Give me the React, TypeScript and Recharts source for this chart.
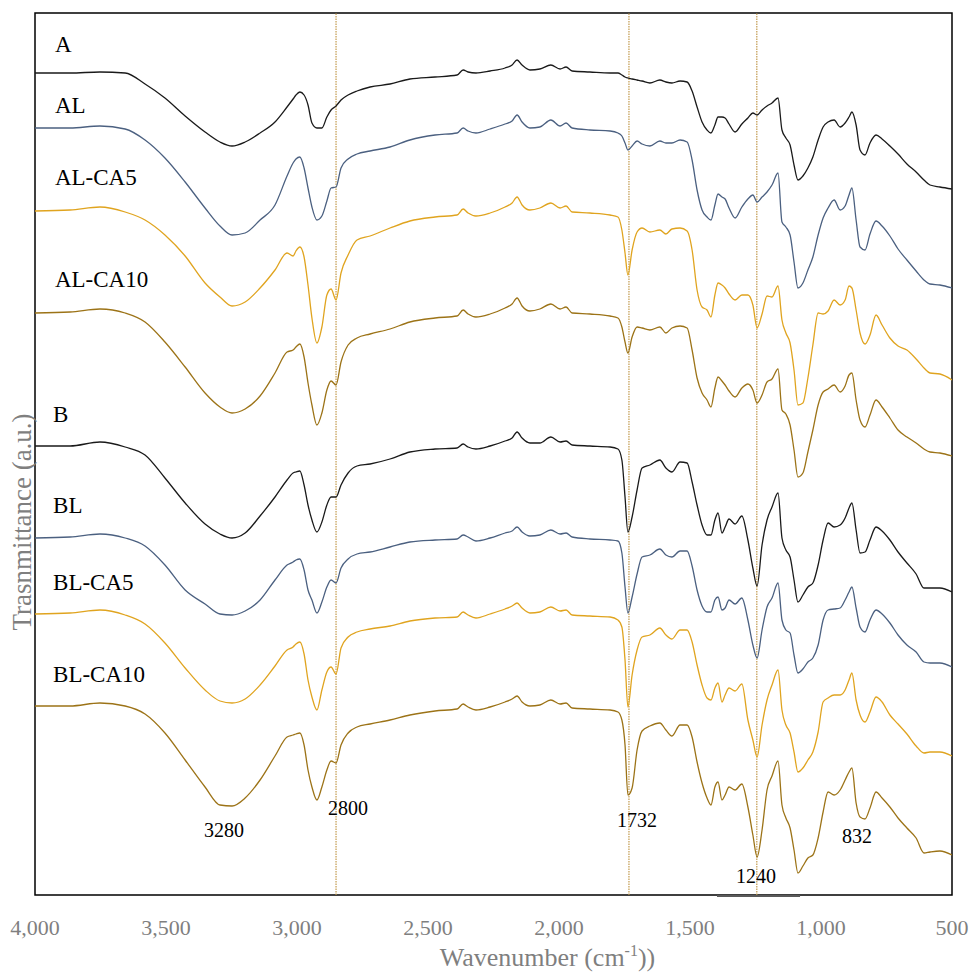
import React from 'react';
import {
  LineChart,
  Line,
  XAxis,
  YAxis,
  ReferenceLine,
  ReferenceArea,
  ReferenceDot,
} from 'recharts';

// Wavenumber grid (cm-1), shared by all spectra
const WAVENUMBERS = [
  4000, 3866, 3752, 3656, 3580, 3504, 3427, 3351, 3294, 3248,
  3198, 3141, 3084, 3038, 3015, 3004, 2989, 2973, 2958, 2943,
  2924, 2905, 2886, 2870, 2851, 2832, 2805, 2771, 2721, 2645,
  2569, 2473, 2389, 2366, 2347, 2317, 2263, 2206, 2179, 2160,
  2141, 2111, 2073, 2031, 1996, 1973, 1950, 1882, 1805, 1775,
  1760, 1748, 1737, 1721, 1702, 1683, 1653, 1615, 1592, 1569,
  1538, 1511, 1492, 1473, 1454, 1435, 1420, 1405, 1393, 1378,
  1366, 1351, 1328, 1302, 1279, 1260, 1244, 1225, 1206, 1187,
  1164, 1149, 1134, 1118, 1103, 1088, 1069, 1050, 1031, 1011,
  992, 973, 950, 927, 908, 893, 882, 866, 851, 832,
  813, 790, 767, 737, 706, 672, 637, 607, 584, 546,
  500,
];

// Offset transmittance (a.u.) of each spectrum
const A = [
  822, 822, 823, 822, 811, 797, 779, 763, 753, 749,
  753, 762, 773, 788, 796, 800, 803, 800, 790, 772,
  767, 767, 778, 785, 789, 795, 800, 804, 808, 811,
  816, 818, 820, 825, 823, 822, 824, 827, 830, 835,
  830, 825, 826, 830, 826, 828, 824, 823, 822, 822,
  820, 818, 817, 816, 815, 814, 812, 815, 813, 812,
  814, 813, 804, 788, 773, 765, 762, 770, 778, 778,
  777, 771, 763, 771, 777, 782, 780, 785, 789, 792,
  797, 765, 757, 750, 730, 715, 719, 727, 738, 755,
  768, 773, 775, 768, 772, 778, 783, 770, 745, 740,
  752, 760, 756, 749, 741, 731, 723, 715, 710, 708,
  706,
];

const AL = [
  767, 767, 769, 766, 755, 737, 713, 687, 669, 660,
  662, 675, 690, 719, 732, 736, 738, 727, 707, 688,
  675, 679, 694, 707, 708, 727, 736, 741, 744, 748,
  755, 760, 762, 767, 764, 762, 766, 771, 774, 780,
  773, 767, 768, 775, 769, 772, 767, 765, 764, 762,
  759, 752, 745, 749, 754, 751, 749, 754, 752, 752,
  755, 753, 735, 705, 685, 678, 675, 690, 701, 698,
  696, 687, 677, 688, 696, 700, 693, 698, 703, 710,
  722, 673, 668, 660, 633, 607, 612, 625, 638, 660,
  677, 687, 695, 685, 689, 700, 707, 675, 648, 645,
  661, 674, 669, 659, 646, 635, 624, 615, 611, 610,
  607,
];

const AL_CA5 = [
  684, 685, 688, 683, 675, 660, 639, 612, 598, 589,
  593, 607, 625, 642, 639, 644, 648, 638, 610, 577,
  552, 568, 600, 606, 595, 622, 640, 655, 659, 667,
  674, 678, 680, 686, 682, 679, 682, 688, 692, 698,
  690, 685, 687, 692, 687, 689, 683, 682, 680, 678,
  665, 642, 620, 645, 663, 667, 663, 665, 661, 666,
  667, 664, 645, 605, 588, 585, 578, 600, 612, 610,
  607, 601, 595, 600, 600, 590, 567, 581, 599, 598,
  609, 575, 562, 552, 525, 490, 492, 517, 550, 582,
  581, 584, 595, 590, 595, 609, 607, 585, 562, 551,
  560, 580, 570, 557, 549, 545, 536, 527, 522, 521,
  515,
];

const AL_CA10 = [
  582, 583, 586, 582, 573, 553, 528, 502, 488, 482,
  486, 499, 522, 543, 545, 548, 551, 538, 512, 490,
  470, 482, 505, 514, 510, 533, 550, 557, 561, 566,
  573, 577, 579, 585, 581, 578, 581, 587, 591, 597,
  589, 584, 586, 591, 586, 588, 582, 581, 579, 577,
  568, 553, 542, 558, 568, 567, 565, 568, 562, 567,
  569, 567, 545, 517, 502, 495, 488, 507, 518, 514,
  510, 504, 498, 507, 511, 505, 492, 500, 513, 516,
  526, 485, 481, 470, 445, 418, 422, 443, 465, 490,
  503, 506, 510, 503, 509, 520, 522, 495, 475, 468,
  480, 495, 488, 477, 465, 458, 452, 446, 443, 442,
  439,
];

const B = [
  449, 449, 453, 448, 440, 417, 392, 371, 361, 357,
  362, 379, 398, 415, 422, 423, 424, 410, 390, 375,
  363, 373, 390, 398, 398, 410, 422, 429, 431, 436,
  443, 446, 447, 451, 448, 446, 449, 454, 457, 463,
  457, 452, 452, 458, 453, 454, 450, 449, 448, 446,
  435, 398, 363, 378, 405, 427, 430, 435, 427, 423,
  433, 432, 413, 390, 370, 360, 360, 375, 382, 362,
  368, 376, 371, 379, 355, 327, 309, 350, 375, 388,
  402, 357, 345, 338, 315, 293, 300, 308, 312, 330,
  355, 372, 368, 370, 377, 387, 392, 365, 342, 343,
  355, 368, 364, 355, 343, 332, 321, 307, 307, 307,
  303,
];

const BL = [
  357, 358, 361, 357, 349, 330, 305, 291, 281, 280,
  284, 295, 315, 330, 333, 335, 336, 325, 305, 295,
  282, 293, 308, 315, 312, 327, 336, 341, 343, 348,
  353, 355, 356, 360, 358, 354, 357, 362, 364, 368,
  363, 359, 360, 365, 361, 362, 358, 356, 355, 354,
  342, 308, 282, 298, 321, 338, 340, 346, 340, 338,
  344, 344, 329, 305, 289, 283, 283, 295, 298, 285,
  287, 295, 291, 297, 275, 250, 237, 265, 288, 297,
  312, 275, 265, 262, 240, 222, 226, 233, 237, 250,
  275, 285, 286, 287, 295, 303, 308, 287, 268, 263,
  275, 285, 281, 272, 260, 250, 243, 233, 232, 232,
  228,
];

const BL_CA5 = [
  281, 282, 285, 280, 271, 252, 227, 205, 194, 192,
  196, 210, 229, 245, 248, 251, 253, 241, 215, 198,
  185, 205, 223, 228, 221, 247, 258, 263, 266, 269,
  274, 277, 278, 283, 280, 277, 281, 286, 289, 292,
  287, 282, 283, 288, 284, 285, 280, 279, 278, 275,
  268, 235, 188, 220, 245, 258, 260, 267, 260, 256,
  265, 265, 253, 230, 210, 197, 195, 207, 212, 193,
  200, 207, 204, 211, 175, 155, 138, 170, 195, 210,
  225, 185, 170, 162, 143, 123, 127, 135, 143, 163,
  193, 197, 200, 200, 205, 215, 222, 195, 180, 173,
  183, 198, 193, 180, 171, 161, 149, 142, 143, 143,
  139,
];

const BL_CA10 = [
  189, 189, 192, 189, 181, 162, 135, 108, 90, 89,
  97, 115, 139, 158, 160, 161, 162, 150, 125, 108,
  95, 108, 125, 134, 132, 150, 162, 168, 171, 175,
  180, 184, 186, 191, 188, 185, 188, 193, 196, 199,
  193, 189, 190, 195, 191, 192, 187, 186, 185, 183,
  175, 150, 100, 107, 145, 164, 169, 172, 165, 159,
  170, 170, 158, 133, 112, 97, 90, 108, 113, 95,
  100, 108, 105, 111, 88, 60, 38, 65, 105, 119,
  134, 90, 77, 67, 45, 22, 29, 37, 40, 57,
  83, 103, 100, 105, 115, 123, 127, 92, 78, 76,
  87, 103, 97, 88, 77, 67, 57, 42, 43, 44,
  40,
];

const SERIES = [
  { key: 'A', values: A, color: '#1a1a1a' },
  { key: 'AL', values: AL, color: '#4b6080' },
  { key: 'AL-CA5', values: AL_CA5, color: '#e0a41f' },
  { key: 'AL-CA10', values: AL_CA10, color: '#9c7317' },
  { key: 'B', values: B, color: '#1a1a1a' },
  { key: 'BL', values: BL, color: '#4b6080' },
  { key: 'BL-CA5', values: BL_CA5, color: '#e0a41f' },
  { key: 'BL-CA10', values: BL_CA10, color: '#9c7317' },
];

// Sample names written above each spectrum: [text, wavenumber, level]
const SERIES_LABELS: [string, number, number][] = [
  ['A', 3924, 843],
  ['AL', 3924, 782],
  ['AL-CA5', 3924, 710],
  ['AL-CA10', 3924, 608],
  ['B', 3931, 473],
  ['BL', 3931, 382],
  ['BL-CA5', 3931, 305],
  ['BL-CA10', 3931, 213],
];

// Band annotations: [text, wavenumber, level]
const PEAK_LABELS: [string, number, number][] = [
  ['3280', 3279, 58],
  ['2800', 2805, 80],
  ['1732', 1702, 68],
  ['1240', 1248, 12],
  ['832', 863, 52],
];

const MARKER_LINES = [2851, 1733, 1245];
const X_TICKS = [4000, 3500, 3000, 2500, 2000, 1500, 1000, 500];

const FONT = "'Liberation Serif', 'Times New Roman', 'DejaVu Serif', serif";
const GRAY = '#7f7f7f';

const data = WAVENUMBERS.map((wn, i) => {
  const row: Record<string, number> = { wn };
  SERIES.forEach((s) => {
    row[s.key] = s.values[i];
  });
  return row;
});

const textLabel = (text: string, size: number, anchor: 'start' | 'middle') => (p: any) => (
  <text
    x={p.viewBox.x}
    y={p.viewBox.y}
    style={{ fontFamily: FONT, fontSize: size }}
    fill="#000"
    textAnchor={anchor}
  >
    {text}
  </text>
);

const XTick = (p: any) => (
  <text
    x={p.x}
    y={p.y + 40}
    style={{ fontFamily: FONT, fontSize: 22 }}
    fill={GRAY}
    textAnchor="middle"
  >
    {Number(p.payload.value).toLocaleString('en-US')}
  </text>
);

export default function App() {
  return (
    <div style={{ position: 'absolute', left: 0, top: 0, width: 969, height: 974, background: '#fff' }}>
      <LineChart
        width={969}
        height={974}
        data={data}
        margin={{ top: 13, right: 17, left: 0, bottom: 0 }}
      >
        <XAxis
          dataKey="wn"
          type="number"
          domain={[500, 4000]}
          allowDataOverflow
          reversed
          ticks={X_TICKS}
          interval={0}
          height={79}
          tickSize={0}
          tickMargin={0}
          axisLine={false}
          tickLine={false}
          tick={XTick}
          label={{
            content: (p: any) => (
              <text
                x={p.viewBox.x + p.viewBox.width / 2 + 54}
                y={p.viewBox.y + 71}
                style={{ fontFamily: FONT, fontSize: 26 }}
                fill={GRAY}
                textAnchor="middle"
              >
                <tspan>Wavenumber (cm</tspan>
                <tspan dy={-10} style={{ fontSize: 16 }}>-1</tspan>
                <tspan dy={10}>))</tspan>
              </text>
            ),
          }}
        />
        <YAxis
          type="number"
          domain={[0, 882]}
          allowDataOverflow
          width={35}
          tick={false}
          tickLine={false}
          axisLine={false}
          label={{
            content: (p: any) => {
              const cx = p.viewBox.x + 22;
              const cy = p.viewBox.y + 509;
              return (
                <text
                  x={cx}
                  y={cy}
                  style={{ fontFamily: FONT, fontSize: 27 }}
                  fill={GRAY}
                  textAnchor="middle"
                  dominantBaseline="central"
                  transform={`rotate(-90, ${cx}, ${cy})`}
                >
                  Trasnmittance (a.u.)
                </text>
              );
            },
          }}
        />
        <ReferenceArea
          x1={4000}
          x2={500}
          y1={0}
          y2={882}
          fill="none"
          stroke="#000"
          strokeWidth={1.5}
          ifOverflow="visible"
        />
        {MARKER_LINES.map((wn) => (
          <ReferenceLine
            key={wn}
            x={wn}
            stroke="#c29a4e"
            strokeWidth={1.2}
            strokeDasharray="1.5 1"
          />
        ))}
        <ReferenceLine
          segment={[
            { x: 1397, y: -1 },
            { x: 1080, y: -1 },
          ]}
          stroke="#595959"
          strokeWidth={2}
          ifOverflow="visible"
        />
        {SERIES.map((s) => (
          <Line
            key={s.key}
            dataKey={s.key}
            type="monotone"
            stroke={s.color}
            strokeWidth={1.3}
            dot={false}
            activeDot={false}
            isAnimationActive={false}
          />
        ))}
        {SERIES_LABELS.map(([t, wn, v]) => (
          <ReferenceDot
            key={t}
            x={wn}
            y={v}
            r={0}
            fill="none"
            stroke="none"
            ifOverflow="visible"
            label={textLabel(t, 23, 'start')}
          />
        ))}
        {PEAK_LABELS.map(([t, wn, v]) => (
          <ReferenceDot
            key={t}
            x={wn}
            y={v}
            r={0}
            fill="none"
            stroke="none"
            ifOverflow="visible"
            label={textLabel(t, 20, 'middle')}
          />
        ))}
      </LineChart>
    </div>
  );
}
